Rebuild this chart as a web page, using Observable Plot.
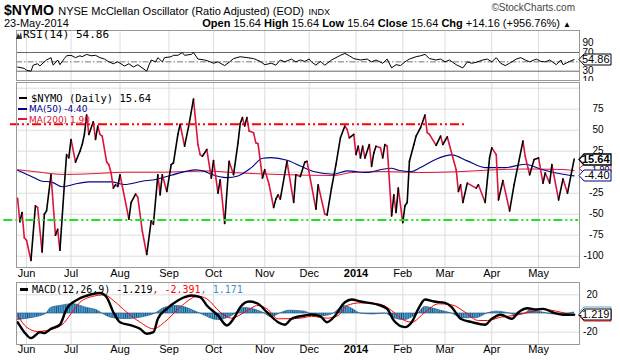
<!DOCTYPE html>
<html><head><meta charset="utf-8">
<script src="https://cdn.jsdelivr.net/npm/d3@7"></script>
<script src="https://cdn.jsdelivr.net/npm/@observablehq/plot@0.6"></script>
<style>
html,body{margin:0;padding:0;background:#fff;}
#chart{position:relative;width:620px;height:360px;overflow:hidden;background:#fff;font-family:"Liberation Sans",Arial,sans-serif;color:#000;}
#chart svg.plotsvg{position:absolute;left:0;}
.t{position:absolute;white-space:nowrap;line-height:1;}
.sw{display:inline-block;width:8px;height:2px;vertical-align:middle;margin-right:4px;position:relative;top:-1px;}
</style></head>
<body><div id="chart"><svg width="0" height="0" style="position:absolute"><defs><pattern id="histStripes" patternUnits="userSpaceOnUse" x="15.987" y="0" width="2.226" height="20"><rect width="2.226" height="20" fill="#4a9fd0"/><rect width="0.75" height="20" fill="#1b4f7d"/></pattern></defs></svg></div>
<script>
// ---------- calendar ----------
const firstDay = "2013-05-28", lastDay = "2014-05-23";
const holidays = ["2013-07-04","2013-09-02","2013-11-28","2013-12-25","2014-01-01","2014-01-20","2014-02-17","2014-04-18"];
const monthLabels = ["Jun","Jul","Aug","Sep","Oct","Nov","Dec","2014","Feb","Mar","Apr","May"];

// ---------- data: [trading-day index, value] ----------
const nymoPoints = [[0,-31],[1,-59],[2,-48],[3,-78],[4,-81],[6,-105],[8,-40],[9,-42],[11,-95],[12,-50],[13,-46],[15,-3],[17,-75],[18,-68],[19,-93],[21,-15],[22,21],[23,17],[24,39],[26,12],[28,25],[29,33],[30,45],[31,68],[32,45],[34,60],[35,39],[36,55],[37,45],[38,43],[40,12],[41,9],[42,-1],[43,-19],[44,-15],[45,-17],[46,-3],[50,-56],[51,-36],[53,-26],[54,-30],[56,-70],[58,-98],[60,-58],[61,-62],[63,-3],[64,-27],[65,-3],[67,-23],[69,9],[70,11],[72,45],[73,57],[75,31],[77,57],[79,87],[81,33],[82,21],[83,19],[85,27],[87,-7],[88,14],[90,-25],[91,-9],[93,-61],[95,13],[97,-3],[99,35],[100,58],[101,65],[102,55],[103,65],[104,49],[106,47],[107,35],[108,34],[110,-7],[111,3],[113,-15],[115,-42],[116,-32],[117,-27],[118,-32],[121,13],[124,-36],[125,-3],[127,-5],[129,12],[130,13],[134,-44],[135,-15],[138,-50],[139,-51],[141,-19],[143,9],[145,41],[147,55],[148,51],[149,41],[151,45],[152,21],[153,31],[154,17],[155,31],[156,17],[158,33],[159,7],[160,23],[161,31],[163,29],[164,17],[165,33],[166,31],[168,-52],[169,-27],[170,-48],[171,-19],[173,-60],[174,-40],[175,-36],[176,13],[178,33],[179,43],[181,53],[183,68],[184,47],[185,45],[188,32],[190,43],[191,33],[193,42],[197,3],[198,-23],[199,-15],[200,-36],[202,-13],[206,-19],[207,-15],[210,-36],[212,17],[213,29],[215,21],[216,-33],[218,-10],[221,-46],[223,-15],[227,37],[228,19],[230,-3],[232,15],[234,17],[236,-13],[237,-1],[239,-13],[240,9],[243,-33],[245,-8],[247,-25],[250,15.64]];
const ma50Points = [[0,2.4],[6,-4.7],[11,-10.7],[15,-11.5],[20,-17.4],[25,-14.6],[32,-11.5],[42,-11.5],[48,-14.6],[56,-10.7],[62,-8.7],[69,-3.6],[80,2.8],[84,1],[87,-2.4],[94,-6.4],[99,-4.4],[105,5.5],[110,16.6],[114,17.4],[121,14.2],[127,7.5],[133,0.8],[142,-2.4],[148,1.6],[157,-0.4],[164,3.6],[168,4.8],[171,2.4],[177,0.8],[181,5.5],[188,15.5],[195,20.6],[202,13.5],[210,5.5],[219,5.5],[228,9.5],[235,3.6],[245,-2.4],[250,-4.4]];
const ma200Points = [[0,3],[8,0.6],[21,-2.7],[36,-1.5],[48,0],[66,0],[85,1.5],[97,-0.5],[117,-2.7],[142,-3.9],[150,-0.4],[164,0.8],[180,-0.4],[197,0.5],[212,2.6],[228,3.8],[245,3.2],[250,1.9]];
const rsiPoints = [[0,39],[3,36],[4,32],[6,30],[7,43],[9,46],[10,41],[12,50],[13,54],[15,59],[16,43],[18,54],[19,44],[21,57],[22,63],[24,64],[26,59],[28,63],[29,61],[31,66],[33,63],[35,64],[37,59],[39,56],[41,50],[43,46],[45,50],[48,41],[50,46],[52,39],[54,44],[58,30],[59,43],[60,54],[62,50],[63,59],[65,50],[66,59],[69,61],[70,64],[72,64],[74,70],[75,64],[78,66],[79,70],[81,56],[84,54],[86,51],[88,47],[90,50],[93,42],[95,49],[97,57],[100,61],[103,59],[106,57],[109,51],[111,44],[114,47],[116,43],[118,54],[120,50],[123,56],[125,50],[127,54],[129,51],[131,56],[132,50],[134,43],[136,51],[138,43],[141,54],[143,59],[145,64],[147,68],[149,63],[151,57],[154,54],[157,56],[159,50],[161,54],[164,47],[166,56],[168,37],[170,44],[172,42],[174,50],[176,56],[179,61],[181,63],[183,66],[185,57],[188,54],[190,56],[192,50],[194,54],[197,44],[200,37],[202,50],[204,47],[206,49],[209,54],[211,56],[213,50],[215,59],[217,47],[219,42],[221,47],[224,56],[226,59],[228,54],[230,50],[233,56],[235,51],[237,50],[239,54],[242,44],[244,54],[245,44],[248,51],[250,54.86]];
const macdPoints = [[0,-9.3],[3,-20],[6,-26.4],[7,-25.3],[10,-20],[12,-21],[15,-16.4],[19,-12],[22,5],[27,15],[31,19],[37,22],[40,17.5],[43,1.4],[46,-9.3],[51,-12.8],[55,-16.4],[58,-21.7],[61,-20],[63,-5.7],[67,5],[72,13.9],[75,17.5],[78,19.3],[82,17.5],[85,8.6],[90,-2.1],[94,-12.8],[97,-5.7],[100,6.8],[104,12.8],[108,10.4],[112,1.4],[117,-9.3],[120,-12],[123,-5.7],[129,-2.1],[132,-1],[136,-3],[139,-9.3],[142,-4],[147,12],[150,15],[154,12.8],[162,9.3],[166,5],[169,-7.5],[174,-14.6],[177,-9.3],[180,5],[183,15],[187,12.8],[192,11.4],[195,6.8],[199,-5.7],[204,-9.3],[210,-12],[213,-5.7],[217,-1.4],[222,-5.7],[225,1.4],[229,5.7],[233,4.3],[236,5],[241,0.7],[245,-1.4],[250,-1.219]];
const signalPoints = [[0,-2.1],[4,-14.6],[9,-19.3],[13,-18.2],[20,-12],[24,-0.3],[28,12],[34,18.5],[39,20],[43,13.9],[49,1.4],[55,-9.3],[61,-16.4],[66,-9.3],[73,6.8],[81,18.5],[85,15.7],[91,1.4],[96,-5],[102,1.4],[108,8.6],[112,5],[117,-5.7],[127,-5],[132,-3],[139,-5],[144,-2.1],[148,8.6],[154,11.4],[162,10.4],[168,3.2],[172,-5],[177,-9.3],[183,1.4],[189,10.4],[195,9.3],[201,1.4],[207,-7.5],[211,-7.5],[217,-4],[223,-2.1],[230,1.4],[236,4.3],[244,1.4],[250,-2.391]];
const histPoints = [[0,-7],[6,-5],[10,-3],[13,0],[15,6],[19,8],[25,10],[31,6],[36,3],[38,0],[43,-5],[49,-6],[58,-3],[62,0],[66,6],[72,8],[79,3],[82,0],[90,-7],[96,-3],[98,0],[102,6],[108,3],[111,0],[114,-4],[118,0],[122,3],[129,2],[132,-1],[136,-3],[140,-2],[142,0],[147,8],[151,4],[154,0],[160,-1],[165,0],[169,-5],[174,-7],[178,-3],[180,0],[183,7],[190,3],[195,0],[200,-5],[206,-5],[211,0],[215,2],[221,0],[224,-2],[228,0],[230,3],[236,1],[241,-1],[245,-1],[250,1.171]];

const overboughtLine = 57, oversoldLine = -57;
const mainGrid = [-100,-75,-50,-25,0,25,50,75,100];
const mainTickLabels = [75,50,25,-25,-50,-75,-100];
const rsiLevels = [70,30];
const rsiTickLabels = [90,70,30,10];
const macdGrid = [20,-20];
const macdTickLabels = [20,-20];

// ---------- helpers ----------
const tradingDays = [];
for (let t = Date.parse(firstDay + "T00:00Z"); t <= Date.parse(lastDay + "T00:00Z"); t += 864e5) {
  const d = new Date(t), dow = d.getUTCDay(), s = d.toISOString().slice(0, 10);
  if (dow === 0 || dow === 6 || holidays.includes(s)) continue;
  tradingDays.push(s);
}
const monthStarts = [];
tradingDays.forEach((s, i) => { if (i > 0 && s.slice(5, 7) !== tradingDays[i - 1].slice(5, 7)) monthStarts.push(i); });
const months = monthStarts.map((i, k) => ({i, label: monthLabels[k]}));
const pts = a => a.map(([i, v]) => ({i, v}));
const nymo = pts(nymoPoints), ma50 = pts(ma50Points), ma200 = pts(ma200Points);
const rsi = pts(rsiPoints), macd = pts(macdPoints), signal = pts(signalPoints), hist = pts(histPoints);
const segs = d3.pairs(nymo);
const upSegs = segs.filter(([a, b]) => b.v >= a.v), downSegs = segs.filter(([a, b]) => b.v < a.v);
const last = a => a[a.length - 1].v;
const fmt = v => String(v).replace("\u2212", "-");

const W = 620, ML = 16, MR = 41;
const xDomain = [-0.5, 252.4];
const CR = "#dc143c";
const FF = "Liberation Sans, Arial, sans-serif";

function tagMark(list) {
  return (...args) => {
    const scales = args.find(a => a && typeof a.y === "function");
    const dims = args.find(a => a && typeof a.width === "number" && "marginRight" in a);
    const xr = dims.width - dims.marginRight;
    const g = d3.create("svg:g");
    for (const t of list) {
      const y = Math.round(scales.y(t.value) + (t.shift || 0)) + 0.5, h = t.h || 5.5;
      g.append("path").attr("d", `M${xr},${y}L${xr + 5},${y - h}H${xr + 32}V${y + h}H${xr + 5}Z`)
        .attr("fill", "#fff").attr("stroke", t.color).attr("stroke-width", t.bold ? 1.3 : 1);
      if (t.label) g.append("text").attr("x", xr + 30.5).attr("y", y).attr("dy", "0.36em").attr("text-anchor", "end")
        .attr("font-family", FF).attr("font-size", t.size || 11)
        .attr("font-weight", t.bold ? "bold" : "normal").attr("fill", "#000").text(t.label);
    }
    return g.node();
  };
}
const tickText = (vals, dx) => Plot.text(vals, {y: d => d, text: d => fmt(d), frameAnchor: "right", dx, textAnchor: "end", fontSize: 10, fill: "#000", fontFamily: FF});
const monthText = (dy) => [
  Plot.text(months.filter(m => m.label !== "2014"), {x: "i", text: "label", frameAnchor: "bottom", dy, fontSize: 11, fill: "#000", fontFamily: FF}),
  Plot.text(months.filter(m => m.label === "2014"), {x: "i", text: "label", frameAnchor: "bottom", dy, fontSize: 11, fontWeight: "bold", fill: "#000", fontFamily: FF})
];
const base = {width: W, marginLeft: ML, marginRight: MR, x: {domain: xDomain, axis: null}};

// ---------- RSI panel ----------
const rsiPlot = Plot.plot({...base, height: 52, marginTop: 1, marginBottom: 1,
  style: {background: "white", overflow: "visible"},
  y: {domain: [10.1, 117.1], axis: null},
  marks: [
    Plot.ruleX(monthStarts, {stroke: "#ddd"}),
    Plot.ruleY(rsiLevels, {stroke: "#666"}),
    Plot.ruleY([50], {stroke: "#777", strokeDasharray: "6,2,1.5,2"}),
    Plot.line(rsi, {x: "i", y: "v", stroke: "#000", strokeWidth: 1}),
    tickText(rsiTickLabels, 14),
    Plot.frame({stroke: "#999"}),
    tagMark([{value: last(rsi), label: "54.86", color: "#000"}])
  ]});

// ---------- main panel ----------
const mainPlot = Plot.plot({...base, height: 200, marginTop: 1, marginBottom: 14,
  style: {background: "white", overflow: "visible"},
  y: {domain: [-113.45, 106.8], axis: null},
  marks: [
    Plot.ruleX(monthStarts, {stroke: "#ddd"}),
    Plot.ruleY(mainGrid, {stroke: "#ddd"}),
    Plot.line(ma200, {x: "i", y: "v", stroke: CR, strokeWidth: 1, curve: "monotone-x"}),
    Plot.line(ma50, {x: "i", y: "v", stroke: "#00008b", strokeWidth: 1.1, curve: "monotone-x"}),
    Plot.link(downSegs, {x1: d => d[0].i, y1: d => d[0].v, x2: d => d[1].i, y2: d => d[1].v, stroke: CR, strokeWidth: 1.6, strokeLinecap: "round"}),
    Plot.link(upSegs, {x1: d => d[0].i, y1: d => d[0].v, x2: d => d[1].i, y2: d => d[1].v, stroke: "#000", strokeWidth: 1.6, strokeLinecap: "round"}),
    Plot.ruleY([overboughtLine], {x1: -3.2, x2: 202, stroke: "#ff0000", strokeWidth: 2, strokeDasharray: "9,3,2,3,2,3"}),
    Plot.ruleY([oversoldLine], {x1: -6.2, x2: 252, stroke: "#22e022", strokeWidth: 2, strokeDasharray: "9,3,2,3,2,3"}),
    tickText(mainTickLabels, 24),
    ...monthText(9),
    Plot.frame({stroke: "#999"}),
    tagMark([
      {value: last(ma200), label: "1.90", color: CR, size: 9, h: 4, shift: -2.5},
      {value: last(nymo), label: "15.64", color: "#000", bold: true},
      {value: last(ma50), label: "-4.40", color: "#00008b"}
    ])
  ]});

// ---------- MACD panel ----------
const macdPlot = Plot.plot({...base, height: 79, marginTop: 1, marginBottom: 16,
  style: {background: "white", overflow: "visible"},
  y: {domain: [-33.2, 33.2], axis: null},
  marks: [
    Plot.ruleX(monthStarts, {stroke: "#ddd"}),
    Plot.ruleY(macdGrid, {stroke: "#ddd"}),
    Plot.areaY(hist, {x: "i", y: "v", fill: "url(#histStripes)", stroke: "#1f5a86", strokeWidth: 0.7, curve: "monotone-x"}),
    Plot.line(signal, {x: "i", y: "v", stroke: "#ff0000", strokeWidth: 1, curve: "monotone-x"}),
    Plot.line(macd, {x: "i", y: "v", stroke: "#000", strokeWidth: 2.4, curve: "monotone-x"}),
    tickText(macdTickLabels, 18),
    ...monthText(8),
    Plot.frame({stroke: "#999"}),
    tagMark([
      {value: last(hist), color: "#5ba3d0"},
      {value: last(signal), color: "#ff0000"},
      {value: last(macd), label: "-1.219", color: "#000"}
    ])
  ]});

const chart = document.getElementById("chart");
function place(svg, top) { svg.classList.add("plotsvg"); svg.style.top = top + "px"; chart.appendChild(svg); }
place(rsiPlot, 29);
place(mainPlot, 81);
place(macdPlot, 281);

function addText(html, pos, style) {
  const d = document.createElement("div");
  d.className = "t";
  for (const k in pos) d.style[k] = pos[k] + "px";
  Object.assign(d.style, style || {});
  d.innerHTML = html;
  chart.appendChild(d);
}
// header
addText('<b style="font-size:14px">$NYMO</b> <span style="font-size:11px">NYSE McClellan Oscillator (Ratio Adjusted) (EOD)</span> <span style="font-size:9px">INDX</span>', {left: 4, top: 2});
addText('©StockCharts.com', {right: 45, top: 3}, {fontSize: "10px", color: "#444"});
addText('23-May-2014', {left: 4, top: 18}, {fontSize: "11px"});
addText('<b>Open</b> 15.64 <b>High</b> 15.64 <b>Low</b> 15.64 <b>Close</b> 15.64 <b>Chg</b> +14.16 (+956.76%) <span style="font-size:8px">▲</span>', {right: 49, top: 18}, {fontSize: "11px"});
// legends
addText('<svg width="6" height="7" style="vertical-align:-1px;margin-right:1px"><path d="M0,7L2,1L3.5,4L5,0L6,7Z" fill="#333"/></svg>RSI(14) 54.86', {left: 16, top: 29}, {fontSize: "11px", fontFamily: "'DejaVu Sans Mono',monospace"});
addText('<span class="sw" style="background:#000"></span>$NYMO (Daily) 15.64', {left: 19, top: 93}, {fontSize: "10.5px", fontFamily: "'DejaVu Sans Mono',monospace"});
addText('<span class="sw" style="background:#00008b;width:9px;margin-right:2px"></span><span style="color:#00008b">MA(50) -4.40</span>', {left: 18, top: 105}, {fontSize: "9px", fontFamily: "'DejaVu Sans',sans-serif"});
addText('<span class="sw" style="background:' + CR + ';width:9px;margin-right:2px"></span><span style="color:' + CR + '">MA(200) 1.90</span>', {left: 18, top: 115.5}, {fontSize: "9px", fontFamily: "'DejaVu Sans',sans-serif"});
addText('<span class="sw" style="background:#000;width:8px;height:3px"></span>MACD(12,26,9) -1.219<span style="color:#ff0000">, -2.391</span><span style="color:#3b8fc4">, 1.171</span>', {left: 20, top: 285}, {fontSize: "10px", fontFamily: "'DejaVu Sans Mono',monospace"});
</script></body></html>
